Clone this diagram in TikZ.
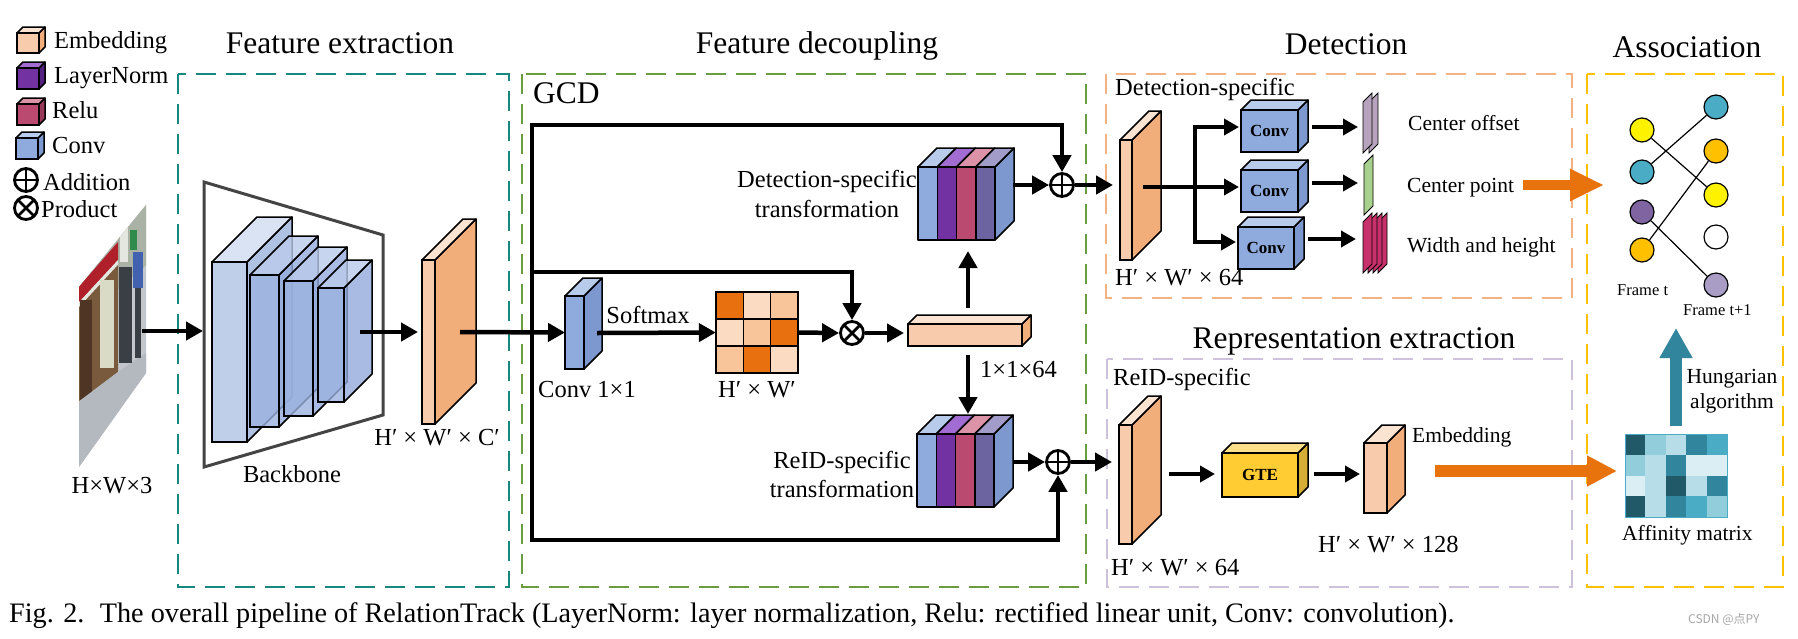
\documentclass[tikz,border=0pt]{standalone}
\usepackage{fontspec}
\setmainfont{Liberation Serif}
\newfontfamily\cjkfont{Noto Sans CJK SC}
\usetikzlibrary{arrows.meta}

\definecolor{embF}{HTML}{F8CBAD}
\definecolor{embT}{HTML}{FBE3D2}
\definecolor{embS}{HTML}{F2AE7A}
\definecolor{lnF}{HTML}{7232A2}
\definecolor{lnT}{HTML}{A26CD2}
\definecolor{lnS}{HTML}{552080}
\definecolor{reluF}{HTML}{BA4A70}
\definecolor{reluT}{HTML}{DC93A8}
\definecolor{reluS}{HTML}{99395A}
\definecolor{convF}{HTML}{8FAADC}
\definecolor{convT}{HTML}{B8CBEA}
\definecolor{convS}{HTML}{7C98CE}
\definecolor{bbaF}{HTML}{B4C7E7}
\definecolor{bbaT}{HTML}{D3DFF2}
\definecolor{bbaS}{HTML}{A3B8E0}
\definecolor{bbbF}{HTML}{9CB3E0}
\definecolor{bbbT}{HTML}{BACBEB}
\definecolor{bbbS}{HTML}{94ABDB}
\definecolor{gteF}{HTML}{FFCC33}
\definecolor{gteT}{HTML}{FFE08A}
\definecolor{gteS}{HTML}{D6AE35}
\definecolor{slateF}{HTML}{6B64A0}
\definecolor{slateT}{HTML}{A29CC8}
\definecolor{tealbox}{HTML}{17877F}
\definecolor{greenbox}{HTML}{6A9C40}
\definecolor{orangebox}{HTML}{F4B183}
\definecolor{lavbox}{HTML}{CCC2DB}
\definecolor{yellowbox}{HTML}{FFC000}
\definecolor{bigorange}{HTML}{E8720C}
\definecolor{tealarrow}{HTML}{31859C}
\definecolor{smD}{HTML}{E8700F}
\definecolor{smM}{HTML}{F8C49A}
\definecolor{smL}{HTML}{FBDCC3}
\definecolor{afA}{HTML}{215968}
\definecolor{afB}{HTML}{31859C}
\definecolor{afC}{HTML}{4BACC6}
\definecolor{afD}{HTML}{92CDDC}
\definecolor{afE}{HTML}{B7DEE8}
\definecolor{afF}{HTML}{DAEEF3}
\definecolor{gY}{HTML}{FFF200}
\definecolor{gT}{HTML}{4BACC6}
\definecolor{gP}{HTML}{8064A2}
\definecolor{gO}{HTML}{FFC000}
\definecolor{gL}{HTML}{A99DC6}
\definecolor{shOff}{HTML}{B7A3BD}
\definecolor{shPt}{HTML}{A9D18E}
\definecolor{shWH}{HTML}{C8306B}
\definecolor{bbline}{HTML}{444444}
\definecolor{phBase}{HTML}{C3C6CB}
\definecolor{phTop}{HTML}{A9B2A4}
\definecolor{phTopW}{HTML}{E4E6E0}
\definecolor{phRed}{HTML}{B0202A}
\definecolor{phShop}{HTML}{7A5A3C}
\definecolor{phShopD}{HTML}{4E3524}
\definecolor{phLt}{HTML}{D9DBC6}
\definecolor{phFloor}{HTML}{B4B9BF}
\definecolor{phGreen}{HTML}{2E8B4A}
\definecolor{phBlue}{HTML}{4262B0}
\definecolor{phDark}{HTML}{3A3F45}

\newcommand{\ftitle}{\fontsize{31.5}{36}\selectfont}
\newcommand{\flab}{\fontsize{24.5}{28}\selectfont}
\newcommand{\fmid}{\fontsize{21.5}{25}\selectfont}
\newcommand{\fsm}{\fontsize{16.5}{19}\selectfont}
\newcommand{\fbold}{\fontsize{17}{20}\selectfont\bfseries}
\newcommand{\fcap}{\fontsize{28.2}{32}\selectfont}

% name, x, y (front top-left), w, h, depth, colour prefix, extra style
\newcommand{\boxthree}[8]{%
  \filldraw[fill=#7S, cubeedge, #8] (#2+#4,#3) -- ++(#6,-#6) -- ++(0,#5) -- ++(-#6,#6) -- cycle;
  \filldraw[fill=#7T, cubeedge, #8] (#2,#3) -- ++(#6,-#6) -- ++(#4,0) -- ++(-#6,#6) -- cycle;
  \node[cubefront, fill=#7F, minimum width=#4pt, minimum height=#5pt, #8] (#1) at (#2+#4/2,#3+#5/2) {};
}
% layered transformation block: name, x, y
\newcommand{\transblock}[3]{%
  \filldraw[fill=convS, cubeedge] (#2+77,#3) -- ++(19,-19) -- ++(0,73) -- ++(-19,19) -- cycle;
  \foreach \o/\f/\t in {0/convF/convT, 19.25/lnF/lnT, 38.5/reluF/reluT, 57.75/slateF/slateT}{
    \filldraw[fill=\t, cubeedge] (#2+\o,#3) -- ++(19,-19) -- ++(19.25,0) -- ++(-19,19) -- cycle;
    \filldraw[fill=\f, cubeedge] (#2+\o,#3) rectangle ++(19.25,73);
  }
  \node[inner sep=0, minimum width=77pt, minimum height=73pt] (#1) at (#2+38.5,#3+36.5) {};
}
% output sheet: x, y bottom-left, colour
\newcommand{\sheetmap}[3]{%
  \filldraw[fill=#3, draw=black, line width=0.8pt] (#1,#2) -- ++(0,-51) -- ++(9,-9) -- ++(0,51) -- cycle;
}

\begin{document}
\begin{tikzpicture}[x=1pt,y=-1pt,
  cubeedge/.style={draw=black, line width=1.5pt, line join=round},
  cubefront/.style={draw=black, line width=1.5pt, inner sep=0, outer sep=0},
  title/.style={font=\ftitle, inner sep=0},
  lbl/.style={font=\flab, inner sep=0},
  mid/.style={font=\fmid, inner sep=0},
  sm/.style={font=\fsm, inner sep=0},
  dbox/.style={line width=2.6pt, dash pattern=on 20pt off 10pt},
  thk/.style={line width=4.5pt, line cap=rect},
  arr/.style={line width=4.5pt, -{Triangle[length=17pt,width=18pt]}},
  arrS/.style={line width=4pt, -{Triangle[length=15pt,width=16pt]}},
  oplus/.style={circle, draw, line width=2.8pt, minimum size=23pt, inner sep=0,
    path picture={\draw[line width=2.8pt] (path picture bounding box.north) -- (path picture bounding box.south)
      (path picture bounding box.west) -- (path picture bounding box.east);}},
  otimes/.style={circle, draw, line width=2.8pt, minimum size=23pt, inner sep=0,
    path picture={\draw[line width=2.8pt] (path picture bounding box.center) +(45:13pt) -- +(225:13pt)
      (path picture bounding box.center) +(135:13pt) -- +(315:13pt);}},
  gnode/.style={circle, draw, line width=1.2pt, minimum size=24pt, inner sep=0},
  gedge/.style={line width=1.2pt}
]
\useasboundingbox (0,0) rectangle (1798,638);
\fill[white] (0,0) rectangle (1798,638);

% ---------------- legend ----------------
\boxthree{lgE}{17}{33}{22}{20}{6}{emb}{}
\boxthree{lgL}{17}{68}{22}{21}{6}{ln}{}
\boxthree{lgR}{17}{104}{22}{21}{6}{relu}{}
\boxthree{lgC}{16}{138}{22}{21}{6}{conv}{}
\node[lbl, anchor=base west] (tE) at (54,48) {Embedding};
\node[lbl, anchor=base west] (tL) at (54,83) {LayerNorm};
\node[lbl, anchor=base west] (tR) at (52,118) {Relu};
\node[lbl, anchor=base west] (tC) at (52,153) {Conv};
\node[oplus] (lgAdd) at (26,180) {};
\node[otimes] (lgMul) at (26,208) {};
\node[lbl, anchor=base west] (tA) at (43,190) {Addition};
\node[lbl, anchor=base west] (tP) at (41,217) {Product};

% ---------------- titles ----------------
\node[title, anchor=base] (ttFE) at (340,53) {Feature extraction};
\node[title, anchor=base] (ttFD) at (817,53) {Feature decoupling};
\node[title, anchor=base] (ttDet) at (1346,54) {Detection};
\node[title, anchor=base] (ttAs) at (1687,57) {Association};
\node[title, anchor=base] (ttRep) at (1354,348) {Representation extraction};

% ---------------- dashed boxes ----------------
\draw[dbox, tealbox] (178,74) rectangle (509,587);
\draw[dbox, greenbox] (522,74) rectangle (1086,587);
\draw[dbox, orangebox] (1106,74) rectangle (1572,298);
\draw[dbox, lavbox] (1107,359) rectangle (1572,587);
\draw[dbox, yellowbox] (1587,74) rectangle (1783,587);

% ---------------- input image ----------------
\begin{scope}
\clip (79,287) -- (146,205) -- (146,373) -- (79,467) -- cycle;
\fill[phBase] (70,190) rectangle (150,470);
\fill[phTop] (70,190) -- (150,190) -- (150,262) -- (70,330) -- cycle;
\fill[phTopW] (120,200) rectangle (128,262);
\fill[phRed] (70,297) -- (118,242) -- (118,260) -- (70,312) -- cycle;
\fill[phTopW] (70,312) -- (118,260) -- (118,265) -- (70,317) -- cycle;
\fill[phShop] (70,317) -- (118,265) -- (118,372) -- (70,408) -- cycle;
\fill[phShopD] (80,300) rectangle (92,400);
\fill[phLt] (100,280) rectangle (114,368);
\fill[phFloor] (70,408) -- (118,372) -- (150,350) -- (150,470) -- (70,470) -- cycle;
\fill[phDark] (119,267) rectangle (132,363);
\fill[phGreen] (130,230) rectangle (137,250);
\fill[phBlue] (133,252) rectangle (143,288);
\fill[phDark] (135,288) rectangle (141,358);
\end{scope}
\node[lbl, anchor=base] (tHW3) at (112,493) {H×W×3};
\coordinate (imgR) at (142,331);
\coordinate (bbL) at (203,331);
\draw[arr] (imgR) -- (bbL);

% ---------------- backbone ----------------
\draw[bbline, line width=3pt, line join=miter] (204,182) -- (383,235) -- (383,415) -- (204,467) -- cycle;
\boxthree{b1}{212}{262}{35}{180}{45}{bba}{fill opacity=0.85}
\boxthree{b2}{250}{275}{29}{152}{39}{bbb}{fill opacity=0.8}
\boxthree{b3}{284}{281}{29}{135}{34}{bbb}{fill opacity=0.8}
\boxthree{b4}{318}{288}{26}{114}{28}{bbb}{fill opacity=0.8}
\node[lbl, anchor=base] (tBB) at (292,482) {Backbone};
\coordinate (bbR) at (360,332);
\coordinate (slabL) at (418,332);
\draw[arr] (bbR) -- (slabL);

% feature map
\boxthree{fmap}{422}{260}{13}{164}{41}{emb}{}
\node[lbl, anchor=base] (tHWC) at (437,445) {H′ × W′ × C′};
\coordinate (fmapC) at (460,332);

% ---------------- GCD ----------------
\node[title, anchor=base west] (tGCD) at (533,103) {GCD};
\boxthree{conv1}{565}{296}{19}{73}{18}{conv}{}
\node[lbl, anchor=base] (tConv1) at (587,397) {Conv 1×1};
\draw[arr] (fmapC) -- (conv1.west);
\node[lbl, anchor=base] (tSoft) at (648,323) {Softmax};

% softmax matrix
\foreach \row/\ca/\cb/\cc in {0/smD/smL/smM, 1/smL/smM/smD, 2/smM/smD/smL}{
  \filldraw[fill=\ca, draw=black, line width=1.5pt] (716,292+\row*27) rectangle ++(27.33,27);
  \filldraw[fill=\cb, draw=black, line width=1.5pt] (743.33,292+\row*27) rectangle ++(27.33,27);
  \filldraw[fill=\cc, draw=black, line width=1.5pt] (770.67,292+\row*27) rectangle ++(27.33,27);
}
\node[inner sep=0, minimum width=82pt, minimum height=81pt] (smx) at (757,332.5) {};
\node[lbl, anchor=base] (tHW) at (757,397) {H′ × W′};
\coordinate (conv1R) at (597,333);
\draw[arr] (conv1R) -- (smx.west);

\node[otimes] (mul) at (852,333) {};
\draw[arr] (smx.east) -- (mul.west);

% 1x1x64 embedding bar
\boxthree{bar}{908}{324}{114}{22}{9}{emb}{}
\coordinate (barL) at (904,333);
\draw[arr] (mul.east) -- (barL);
\coordinate (barT) at (968,308);
\coordinate (barB) at (968,355);
\coordinate (tuB) at (968,251);
\coordinate (tdT) at (968,414);
\draw[arr] (barT) -- (tuB);
\draw[arr] (barB) -- (tdT);
\node[lbl, anchor=base west] (t164) at (980,377) {1×1×64};

% transformations
\transblock{tu}{918}{167}
\transblock{td}{917}{434}
\node[lbl, anchor=base] (tDS1) at (827,187) {Detection-specific};
\node[lbl, anchor=base] (tDS2) at (827,217) {transformation};
\node[lbl, anchor=base] (tRS1) at (842,468) {ReID-specific};
\node[lbl, anchor=base] (tRS2) at (842,497) {transformation};

\node[oplus] (addU) at (1062,185) {};
\node[oplus] (addD) at (1058,462) {};
\coordinate (tuR) at (1013,185);
\coordinate (tdR) at (1013,462);
\draw[arr] (tuR) -- (addU.west);
\draw[arr] (tdR) -- (addD.west);

% skip connections
\coordinate (gTop) at (532,125);
\coordinate (gMid) at (532,272);
\coordinate (gBot) at (532,540);
\draw[thk] (gTop) -- (gBot);
\draw[arr] (gTop) -| (addU.north);
\draw[arr] (gBot) -| (addD.south);
\draw[arr] (gMid) -| (mul.north);

% ---------------- detection ----------------
\node[lbl, anchor=base west] (tDSpec) at (1115,95) {Detection-specific};
\boxthree{dslab}{1120}{140}{12}{120}{29}{emb}{}
\node[lbl, anchor=base west] (tDdim) at (1115,285) {H′ × W′ × 64};
\coordinate (dslabL) at (1113,185);
\draw[arr] (addU.east) -- (dslabL);
\boxthree{cA}{1241}{110}{57}{42}{10}{conv}{}
\boxthree{cB}{1241}{170}{57}{42}{10}{conv}{}
\boxthree{cC}{1238}{227}{56}{42}{10}{conv}{}
\node[font=\fbold, inner sep=0] at (cA.center) {Conv};
\node[font=\fbold, inner sep=0] at (cB.center) {Conv};
\node[font=\fbold, inner sep=0] at (cC.center) {Conv};
\coordinate (dC) at (1145,187);
\coordinate (brT) at (1195,127);
\coordinate (brM) at (1195,187);
\coordinate (brB) at (1195,242);
\coordinate (cAin) at (1239,127);
\coordinate (cBin) at (1239,187);
\coordinate (cCin) at (1236,242);
\draw[thk] (brT) -- (brB);
\draw[thk] (dC) -- (brM);
\draw[arrS] (brT) -- (cAin);
\draw[arrS] (brM) -- (cBin);
\draw[arrS] (brB) -- (cCin);
\coordinate (cAo) at (1312,127);
\coordinate (cBo) at (1312,183);
\coordinate (cCo) at (1308,239);
\coordinate (sAo) at (1358,127);
\coordinate (sBo) at (1358,183);
\coordinate (sCo) at (1356,239);
\draw[arrS] (cAo) -- (sAo);
\draw[arrS] (cBo) -- (sBo);
\draw[arrS] (cCo) -- (sCo);
\sheetmap{1369}{153}{shOff}
\sheetmap{1363}{153}{shOff}
\sheetmap{1364}{215}{shPt}
\sheetmap{1378}{273}{shWH}
\sheetmap{1373}{273}{shWH}
\sheetmap{1368}{273}{shWH}
\sheetmap{1363}{273}{shWH}
\node[mid, anchor=base west] (tCO) at (1408,130) {Center offset};
\node[mid, anchor=base west] (tCP) at (1407,192) {Center point};
\node[mid, anchor=base west] (tWH) at (1407,252) {Width and height};
\coordinate (oa0) at (1523,185);
\coordinate (oa1) at (1604,185);
\draw[bigorange, line width=10pt, -{Triangle[length=34pt,width=30pt]}] (oa0) -- (oa1);

% ---------------- representation ----------------
\node[lbl, anchor=base west] (tRSpec) at (1113,385) {ReID-specific};
\boxthree{rslab}{1119}{425}{13}{119}{29}{emb}{}
\node[lbl, anchor=base west] (tRdim) at (1111,575) {H′ × W′ × 64};
\coordinate (rslabL) at (1112,462);
\draw[arr] (addD.east) -- (rslabL);
\boxthree{gte}{1222}{453}{76}{44}{10}{gte}{}
\node[font=\fbold, inner sep=0] at (gte.center) {GTE};
\coordinate (rsR) at (1169,474);
\coordinate (gteIn) at (1215,474);
\coordinate (gteOut) at (1314,474);
\coordinate (embIn) at (1360,474);
\draw[arrS] (rsR) -- (gteIn);
\draw[arrS] (gteOut) -- (embIn);
\boxthree{embc}{1364}{443}{23}{70}{18}{emb}{}
\node[mid, anchor=base west] (tEmb2) at (1412,442) {Embedding};
\node[lbl, anchor=base west] (tHW128) at (1318,552) {H′ × W′ × 128};
\coordinate (ob0) at (1435,471);
\coordinate (ob1) at (1617,471);
\draw[bigorange, line width=12pt, -{Triangle[length=30pt,width=29pt]}] (ob0) -- (ob1);

% ---------------- association ----------------
\node[gnode, fill=gY] (l1) at (1642,130) {};
\node[gnode, fill=gT] (l2) at (1642,172) {};
\node[gnode, fill=gP] (l3) at (1642,212) {};
\node[gnode, fill=gO] (l4) at (1642,250) {};
\node[gnode, fill=gT] (r1) at (1716,107) {};
\node[gnode, fill=gO] (r2) at (1716,151) {};
\node[gnode, fill=gY] (r3) at (1716,195) {};
\node[gnode, fill=white] (r4) at (1716,237) {};
\node[gnode, fill=gL] (r5) at (1716,285) {};
\draw[gedge] (l1) -- (r3);
\draw[gedge] (l2) -- (r1);
\draw[gedge] (l3) -- (r5);
\draw[gedge] (l4) -- (r2);
\node[sm, anchor=base west] (tFt) at (1617,295) {Frame t};
\node[sm, anchor=base west] (tFt1) at (1683,315) {Frame t+1};

\foreach \row/\a/\b/\c/\d/\e in {0/afA/afD/afE/afB/afC, 1/afD/afE/afB/afF/afF, 2/afF/afE/afA/afE/afB, 3/afA/afE/afB/afC/afD}{
  \foreach \col/\cl in {0/\a,1/\b,2/\c,3/\d,4/\e}{
    \fill[fill=\cl] (1625+\col*20.4,434+\row*20.75) rectangle ++(20.4,20.75);
  }
}
\node[draw=afC, line width=1pt, inner sep=0, minimum width=102pt, minimum height=83pt] (aff) at (1676,475.5) {};
\node[mid, anchor=base west] (tAff) at (1622,540) {Affinity matrix};
\coordinate (hu0) at (1676,426);
\coordinate (hu1) at (1676,328);
\draw[tealarrow, line width=12pt, -{Triangle[length=30pt,width=31pt]}] (aff.north |- hu0) -- (hu1);
\node[mid, anchor=base] (tHun1) at (1732,383) {Hungarian};
\node[mid, anchor=base] (tHun2) at (1732,408) {algorithm};

% ---------------- caption ----------------
\node[font=\fcap, inner sep=0, anchor=base west] (cap) at (9,622) {Fig. 2.\hspace{0.55em}The overall pipeline of RelationTrack (LayerNorm: layer normalization, Relu: rectified linear unit, Conv: convolution).};
\node[font=\cjkfont\fontsize{12}{14}\selectfont, text=gray!70, inner sep=0, anchor=base west] (wm) at (1688,623) {CSDN @点PY};
\end{tikzpicture}
\end{document}
